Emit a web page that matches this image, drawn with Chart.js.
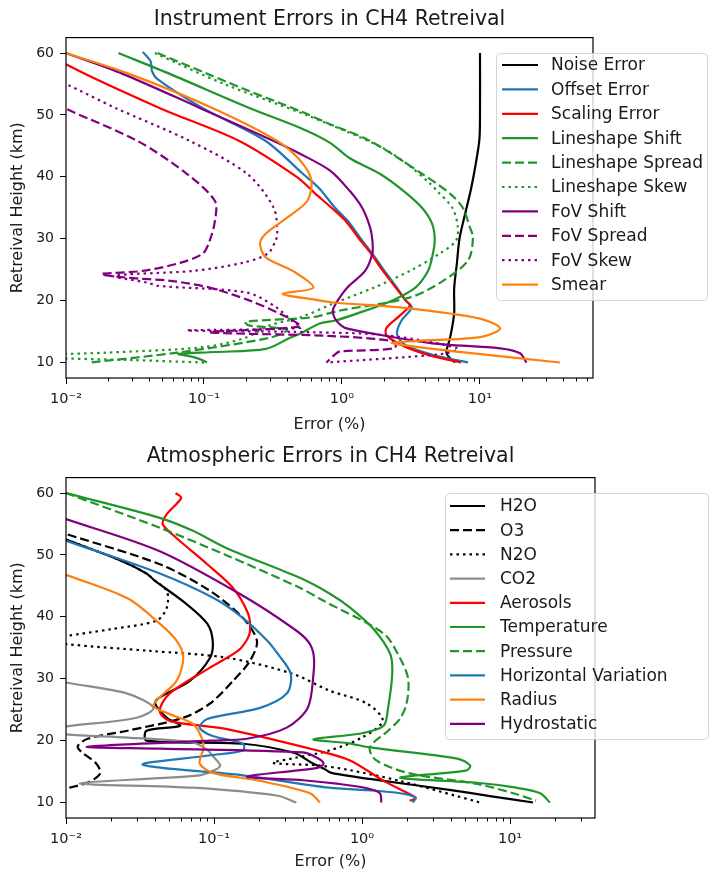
<!DOCTYPE html>
<html>
<head>
<meta charset="utf-8">
<title>CH4 Retreival Errors</title>
<script src="https://cdn.jsdelivr.net/npm/chart.js@4.4.1/dist/chart.umd.min.js"></script>
<style>
    html, body { margin: 0; padding: 0; background: #fff; }
    canvas { display: block; }
</style>
</head>
<body>
<canvas id="instrumentChart" width="709" height="437"></canvas>
<canvas id="atmosphereChart" width="709" height="437"></canvas>
<script>
// Axis ticks
const heightTicks = [10, 20, 30, 40, 50, 60];
const errorTicks = [0.01, 0.1, 1, 10];
const errorTickLabels = ['10⁻²', '10⁻¹', '10⁰', '10¹'];

// Instrument errors: retrieval height (km) and error (%)
const noiseHeight = [60, 50, 46, 42, 38, 34, 30, 26, 22, 18, 15, 13, 11.8, 11, 10];
const noiseError = [10, 10, 9.9, 9.3, 8.6, 7.8, 7.1, 6.8, 6.5, 6.5, 6.2, 5.9, 5.7, 5.9, 6.6];

const offsetHeight = [60.2, 58.7, 57.1, 55.8, 51.1, 45.8, 40.5, 38.2, 35, 32.9, 29.7, 27.6, 25, 22.1, 20, 18.9, 16.8, 14.7, 13, 12, 11, 10];
const offsetError = [0.036, 0.041, 0.042, 0.046, 0.098, 0.28, 0.52, 0.68, 0.89, 1.1, 1.4, 1.66, 2.0, 2.5, 2.9, 3.2, 2.7, 2.5, 2.8, 3.5, 5.0, 8.2];

const scalingHeight = [60, 58.2, 51.1, 45.8, 40, 37.3, 35, 32.9, 30, 27.6, 25, 22.1, 20, 19.2, 17.5, 15.6, 14.4, 13, 12, 11, 10];
const scalingError = [0.0085, 0.01, 0.048, 0.18, 0.47, 0.64, 0.84, 1.06, 1.33, 1.62, 1.95, 2.45, 2.9, 3.1, 2.6, 2.1, 2.1, 2.6, 3.3, 4.6, 7.3];

const lsShiftHeight = [60, 56.6, 51.1, 47.9, 45.5, 43, 40.5, 37.7, 35, 32.4, 29.7, 27, 24.8, 22.1, 20, 17.9, 16.8, 16.3, 14.7, 14.0, 12.2, 11.7, 11.4, 11.0, 10.5, 10];
const lsShiftError = [0.024, 0.057, 0.215, 0.5, 0.82, 1.14, 1.88, 2.8, 3.8, 4.5, 4.7, 4.5, 4.2, 3.4, 2.3, 1.28, 0.9, 0.69, 0.5, 0.42, 0.28, 0.12, 0.065, 0.08, 0.095, 0.105];

const lsSpreadHeight = [60, 56.6, 53.9, 50.6, 48.5, 45.8, 40.5, 37.3, 35, 31.8, 30.2, 26.5, 23.2, 20.5, 18.4, 17.3, 16.6, 16.0, 15.3, 14.0, 11.6, 10];
const lsSpreadError = [0.046, 0.107, 0.21, 0.5, 0.82, 1.6, 3.8, 6.06, 7.5, 8.46, 8.9, 8.2, 5.4, 3.1, 0.97, 0.6, 0.2, 0.21, 0.4, 0.3, 0.064, 0.015];

const lsSkewHeight = [60, 55, 50, 45, 42, 39, 37.7, 35, 32, 29.7, 27.6, 24.8, 22.1, 19.5, 17.3, 16, 14, 12.5, 11.6, 11.2, 10.8, 10.4, 10];
const lsSkewError = [0.044, 0.14, 0.55, 1.85, 3.0, 4.3, 4.9, 6.3, 6.9, 6.7, 5.1, 3.1, 1.7, 0.86, 0.5, 0.3, 0.2, 0.1, 0.02, 0.007, 0.007, 0.03, 0.1];

const fovShiftHeight = [60, 56.6, 51.1, 45.8, 43.7, 41, 37.7, 35, 31.8, 29.7, 27.6, 24.8, 22.1, 20, 18.5, 17.3, 16.3, 15.6, 14.8, 13.1, 12.3, 11.5, 10];
const fovShiftError = [0.01, 0.026, 0.094, 0.32, 0.5, 0.82, 1.14, 1.4, 1.6, 1.66, 1.66, 1.47, 1.09, 0.93, 0.86, 0.88, 0.95, 1.05, 1.55, 4.5, 14, 19.5, 21.7];

const fovSpreadHeight = [52, 51, 45.8, 40.5, 36.1, 32.9, 29.7, 27.6, 26.1, 24.8, 24.3, 23.7, 23.2, 22.1, 20, 17.9, 16.8, 15.8, 14.9, 14.3, 13.4, 12.3, 11.8, 11.4, 10];
const fovSpreadError = [0.0085, 0.01, 0.033, 0.075, 0.12, 0.12, 0.11, 0.098, 0.067, 0.036, 0.018, 0.028, 0.057, 0.11, 0.215, 0.355, 0.44, 0.5, 0.11, 0.8, 2.4, 2.4, 0.97, 0.9, 0.77];

const fovSkewHeight = [55.5, 55, 51.1, 45.8, 40.5, 35, 30.8, 29.7, 27.6, 26.1, 24.8, 24, 22.9, 22.4, 21.3, 19, 16.6, 15.6, 15.2, 14.9, 14.4, 12.3, 11.4, 10];
const fovSkewError = [0.0085, 0.01, 0.023, 0.079, 0.205, 0.32, 0.34, 0.33, 0.29, 0.19, 0.083, 0.022, 0.039, 0.046, 0.205, 0.33, 0.44, 0.5, 0.075, 0.6, 2.1, 6.9, 5.4, 0.77];

const smearHeight = [60, 56.6, 51.1, 45.8, 42.6, 39.4, 36.1, 33.4, 30.8, 29.2, 27, 24.8, 22.1, 21.1, 20.2, 19.7, 18.9, 17.1, 15.5, 14.1, 13.5, 13.2, 12.9, 11.6, 10];
const smearError = [0.01, 0.029, 0.116, 0.34, 0.5, 0.6, 0.56, 0.4, 0.28, 0.255, 0.28, 0.44, 0.62, 0.37, 0.62, 0.86, 2.63, 10, 14, 10, 3.5, 2.3, 2.6, 8, 38];

// Atmospheric errors
const h2oHeight = [52.5, 49, 47, 45.8, 42.1, 38.9, 36.1, 33.4, 29.7, 27, 26, 23.7, 22.4, 21.6, 20, 19.5, 18, 16.5, 15.5, 14.8, 13.5, 12, 11, 10];
const h2oError = [0.01, 0.024, 0.035, 0.04, 0.065, 0.09, 0.098, 0.094, 0.069, 0.043, 0.04, 0.048, 0.059, 0.035, 0.035, 0.157, 0.35, 0.45, 0.55, 0.62, 1.4, 4.0, 7.5, 14.3];

const o3Height = [54, 53.4, 48.5, 44.2, 39.8, 36.1, 32.9, 29.7, 26, 23.7, 21.6, 20.3, 18.9, 16.3, 14.7, 13.2, 12.4, 11.5];
const o3Error = [0.0085, 0.01, 0.043, 0.094, 0.157, 0.195, 0.175, 0.135, 0.094, 0.062, 0.026, 0.014, 0.012, 0.016, 0.017, 0.014, 0.0106, 0.008];

const n2oHeight = [52.5, 49, 47, 45.8, 44.2, 41.5, 39.4, 38, 36.9, 36.3, 35.6, 34.5, 33.4, 30.8, 28.1, 26, 23.2, 20.5, 18.4, 17.2, 16.4, 16, 15.3, 13.5, 10];
const n2oError = [0.01, 0.024, 0.035, 0.04, 0.048, 0.048, 0.041, 0.02, 0.01, 0.007, 0.01, 0.037, 0.122, 0.34, 0.6, 1.08, 1.38, 1.0, 0.6, 0.35, 0.25, 0.5, 0.8, 1.8, 6.3];

const co2Height = [30, 29.4, 27.6, 25.3, 23.7, 22.3, 21.7, 21, 20.5, 19.7, 18.5, 17.3, 16, 15.2, 14.4, 13.1, 12.4, 11.1, 10];
const co2Error = [0.0085, 0.01, 0.026, 0.039, 0.03, 0.01, 0.007, 0.01, 0.026, 0.072, 0.09, 0.1, 0.11, 0.1, 0.08, 0.0124, 0.072, 0.27, 0.36];

const aerosolHeight = [60, 59.2, 56.6, 55, 52.7, 48.5, 44.7, 40.5, 37.7, 36.1, 34.5, 31.8, 27.6, 24.8, 23.2, 21.9, 18.4, 16.8, 13.5, 11.1, 10.7, 10.3];
const aerosolError = [0.055, 0.06, 0.048, 0.045, 0.056, 0.09, 0.134, 0.17, 0.175, 0.165, 0.145, 0.094, 0.05, 0.043, 0.05, 0.12, 0.5, 0.83, 1.4, 2.2, 2.3, 2.1];

const tempHeight = [60, 56, 53.9, 51.1, 46.3, 43.7, 41.5, 38, 34, 30.8, 25.3, 22.4, 21.2, 20.2, 19.6, 18.9, 17.1, 16, 15.2, 14, 13.2, 12.4, 11.5, 10];
const tempError = [0.01, 0.043, 0.072, 0.122, 0.38, 0.61, 0.83, 1.2, 1.55, 1.6, 1.5, 1.4, 1.0, 0.47, 0.8, 1.13, 4.4, 5.37, 5.1, 1.81, 6, 11, 16, 18.6];

const pressureHeight = [60, 54.4, 50, 44.7, 42.6, 37.3, 33.4, 30, 26, 23.5, 21.6, 18.9, 16.8, 14.7, 13, 11.5, 10.3];
const pressureError = [0.01, 0.043, 0.12, 0.38, 0.55, 1.4, 1.8, 2.05, 2.0, 1.8, 1.5, 1.13, 1.25, 2.11, 6, 10.5, 15];

const horizHeight = [52.3, 47, 43, 39.8, 36.1, 34, 30.8, 27.6, 25.3, 23.5, 22.1, 20.8, 19.5, 18.4, 17.6, 16.1, 14.4, 12.4, 12.0, 11.5, 10.8, 10];
const horizError = [0.01, 0.043, 0.1, 0.157, 0.23, 0.27, 0.33, 0.31, 0.205, 0.09, 0.08, 0.097, 0.157, 0.157, 0.092, 0.033, 0.157, 0.6, 1.1, 1.81, 2.3, 2.2];

const radiusHeight = [46.8, 43, 38.9, 36.1, 33.4, 29.7, 27, 25.6, 24.3, 22.7, 20, 18.4, 16.3, 14.8, 13.5, 11.5, 10];
const radiusError = [0.01, 0.026, 0.043, 0.056, 0.062, 0.056, 0.043, 0.039, 0.05, 0.072, 0.084, 0.084, 0.08, 0.098, 0.205, 0.445, 0.52];

const hydroHeight = [55.8, 50.6, 43.4, 38.2, 36.1, 34, 30.8, 25.3, 22.1, 20.3, 20, 19, 18.7, 18.1, 17.2, 16.3, 15.6, 14.2, 13.6, 13, 12.3, 11.5, 10];
const hydroError = [0.01, 0.043, 0.157, 0.34, 0.43, 0.47, 0.47, 0.43, 0.31, 0.167, 0.094, 0.0139, 0.043, 0.4, 0.5, 0.55, 0.5, 0.167, 0.4, 0.7, 1.08, 1.32, 1.35];

// Line styles, matplotlib-like
const dashes = { solid: [], dashed: [9, 4], dotted: [2.5, 4] };

const instrumentSeries = [
    { label: 'Noise Error', height: noiseHeight, error: noiseError, color: '#000000', style: 'solid' },
    { label: 'Offset Error', height: offsetHeight, error: offsetError, color: '#1f77b4', style: 'solid' },
    { label: 'Scaling Error', height: scalingHeight, error: scalingError, color: '#ff0000', style: 'solid' },
    { label: 'Lineshape Shift', height: lsShiftHeight, error: lsShiftError, color: '#22952a', style: 'solid' },
    { label: 'Lineshape Spread', height: lsSpreadHeight, error: lsSpreadError, color: '#22952a', style: 'dashed' },
    { label: 'Lineshape Skew', height: lsSkewHeight, error: lsSkewError, color: '#22952a', style: 'dotted' },
    { label: 'FoV Shift', height: fovShiftHeight, error: fovShiftError, color: '#800080', style: 'solid' },
    { label: 'FoV Spread', height: fovSpreadHeight, error: fovSpreadError, color: '#800080', style: 'dashed' },
    { label: 'FoV Skew', height: fovSkewHeight, error: fovSkewError, color: '#800080', style: 'dotted' },
    { label: 'Smear', height: smearHeight, error: smearError, color: '#ff7f0e', style: 'solid' }
];

const atmosphereSeries = [
    { label: 'H2O', height: h2oHeight, error: h2oError, color: '#000000', style: 'solid' },
    { label: 'O3', height: o3Height, error: o3Error, color: '#000000', style: 'dashed' },
    { label: 'N2O', height: n2oHeight, error: n2oError, color: '#000000', style: 'dotted' },
    { label: 'CO2', height: co2Height, error: co2Error, color: '#8c8c8c', style: 'solid' },
    { label: 'Aerosols', height: aerosolHeight, error: aerosolError, color: '#ff0000', style: 'solid' },
    { label: 'Temperature', height: tempHeight, error: tempError, color: '#22952a', style: 'solid' },
    { label: 'Pressure', height: pressureHeight, error: pressureError, color: '#22952a', style: 'dashed' },
    { label: 'Horizontal Variation', height: horizHeight, error: horizError, color: '#1f77b4', style: 'solid' },
    { label: 'Radius', height: radiusHeight, error: radiusError, color: '#ff7f0e', style: 'solid' },
    { label: 'Hydrostatic', height: hydroHeight, error: hydroError, color: '#800080', style: 'solid' }
];

Chart.defaults.font.family = "'DejaVu Sans', sans-serif";
const textColor = '#1a1a1a';

// Box round the axes plus log minor ticks on the bottom axis
const axesFrame = {
    id: 'axesFrame',
    afterDatasetsDraw(chart) {
        const { ctx, chartArea: a, scales: { x } } = chart;
        ctx.save();
        ctx.strokeStyle = '#000';
        ctx.lineWidth = 1.2;
        ctx.strokeRect(a.left, a.top, a.right - a.left, a.bottom - a.top);
        ctx.lineWidth = 1;
        ctx.beginPath();
        for (let d = -2; d <= 1; d++) {
            for (let m = 2; m <= 9; m++) {
                const v = m * Math.pow(10, d);
                if (v > x.max) continue;
                const px = Math.round(x.getPixelForValue(v)) + 0.5;
                ctx.moveTo(px, a.bottom);
                ctx.lineTo(px, a.bottom + 3.5);
            }
        }
        ctx.stroke();
        ctx.restore();
    }
};

// matplotlib style legend inside the axes (semi transparent box)
const insetLegend = {
    id: 'insetLegend',
    afterDraw(chart, args, o) {
        const ctx = chart.ctx;
        ctx.save();
        ctx.beginPath();
        ctx.roundRect(o.left + 0.5, o.top + 0.5, o.width, o.height, 4);
        ctx.fillStyle = 'rgba(255, 255, 255, 0.8)';
        ctx.fill();
        ctx.strokeStyle = 'rgba(204, 204, 204, 0.8)';
        ctx.lineWidth = 1;
        ctx.stroke();
        ctx.font = o.fontSize + "px 'DejaVu Sans'";
        ctx.textBaseline = 'middle';
        chart.data.datasets.forEach((ds, i) => {
            const y = o.firstRow + i * o.rowStep;
            ctx.beginPath();
            ctx.setLineDash(ds.borderDash);
            ctx.strokeStyle = ds.borderColor;
            ctx.lineWidth = ds.borderWidth;
            ctx.moveTo(o.sampleX, y);
            ctx.lineTo(o.sampleX + o.sampleLen, y);
            ctx.stroke();
            ctx.setLineDash([]);
            ctx.fillStyle = textColor;
            ctx.fillText(ds.label, o.textX, y + 1);
        });
        ctx.restore();
    }
};

function buildChart(canvasId, series, cfg) {
    const datasets = series.map((s, i) => ({
        label: s.label,
        data: s.height.map((h, k) => ({ x: s.error[k], y: h })),
        borderColor: s.color,
        borderWidth: 2.2,
        borderDash: dashes[s.style],
        borderJoinStyle: 'round',
        pointRadius: 0,
        tension: 0.3,
        fill: false,
        order: -i
    }));

    return new Chart(document.getElementById(canvasId), {
        type: 'line',
        data: { datasets },
        plugins: [axesFrame, insetLegend],
        options: {
            responsive: false,
            animation: false,
            events: [],
            layout: { padding: { left: 0, right: cfg.padRight, top: 0, bottom: 0 } },
            plugins: {
                legend: { display: false },
                tooltip: { enabled: false },
                title: {
                    display: true,
                    text: cfg.title,
                    fullSize: false,
                    color: textColor,
                    font: { size: 20.5, weight: 'normal' },
                    padding: cfg.titlePad
                },
                insetLegend: cfg.legend
            },
            scales: {
                x: {
                    type: 'logarithmic',
                    min: 0.01,
                    max: cfg.xMax,
                    afterBuildTicks: scale => { scale.ticks = errorTicks.map(v => ({ value: v })); },
                    afterFit: scale => { scale.height = cfg.xAxisHeight; },
                    ticks: {
                        autoSkip: false,
                        maxRotation: 0,
                        padding: 7,
                        color: textColor,
                        font: { size: 14.5 },
                        callback: value => {
                            const idx = errorTicks.findIndex(t => Math.abs(t - value) < t * 1e-6);
                            return idx >= 0 ? errorTickLabels[idx] : '';
                        }
                    },
                    grid: { drawOnChartArea: false, tickLength: 6, tickColor: '#000', tickWidth: 1 },
                    border: { display: false },
                    title: {
                        display: true,
                        text: 'Error (%)',
                        color: textColor,
                        font: { size: 16 },
                        padding: { top: 0, bottom: 2.5 }
                    }
                },
                y: {
                    type: 'linear',
                    min: 7.5,
                    max: 62.5,
                    afterBuildTicks: scale => { scale.ticks = heightTicks.map(v => ({ value: v })); },
                    afterFit: scale => { scale.width = 66; },
                    ticks: { padding: 6, color: textColor, font: { size: 14 } },
                    grid: { drawOnChartArea: false, tickLength: 6, tickColor: '#000', tickWidth: 1 },
                    border: { display: false },
                    title: {
                        display: true,
                        text: 'Retreival Height (km)',
                        color: textColor,
                        font: { size: 16 },
                        padding: { top: 8, bottom: 0 }
                    }
                }
            }
        }
    });
}

buildChart('instrumentChart', instrumentSeries, {
    title: 'Instrument Errors in CH4 Retreival',
    titlePad: { top: 7.5, bottom: 5.5 },
    padRight: 116,
    xMax: 65.9,
    xAxisHeight: 59,
    legend: { left: 496, top: 53, width: 211, height: 247, firstRow: 65, rowStep: 24.4, sampleX: 502, sampleLen: 36, textX: 551, fontSize: 17 }
});

buildChart('atmosphereChart', atmosphereSeries, {
    title: 'Atmospheric Errors in CH4 Retreival',
    titlePad: { top: 7.5, bottom: 8.5 },
    padRight: 114,
    xMax: 37.5,
    xAxisHeight: 56,
    legend: { left: 445, top: 56, width: 263, height: 246, firstRow: 69, rowStep: 24.2, sampleX: 450, sampleLen: 35, textX: 500, fontSize: 17 }
});
</script>
</body>
</html>
